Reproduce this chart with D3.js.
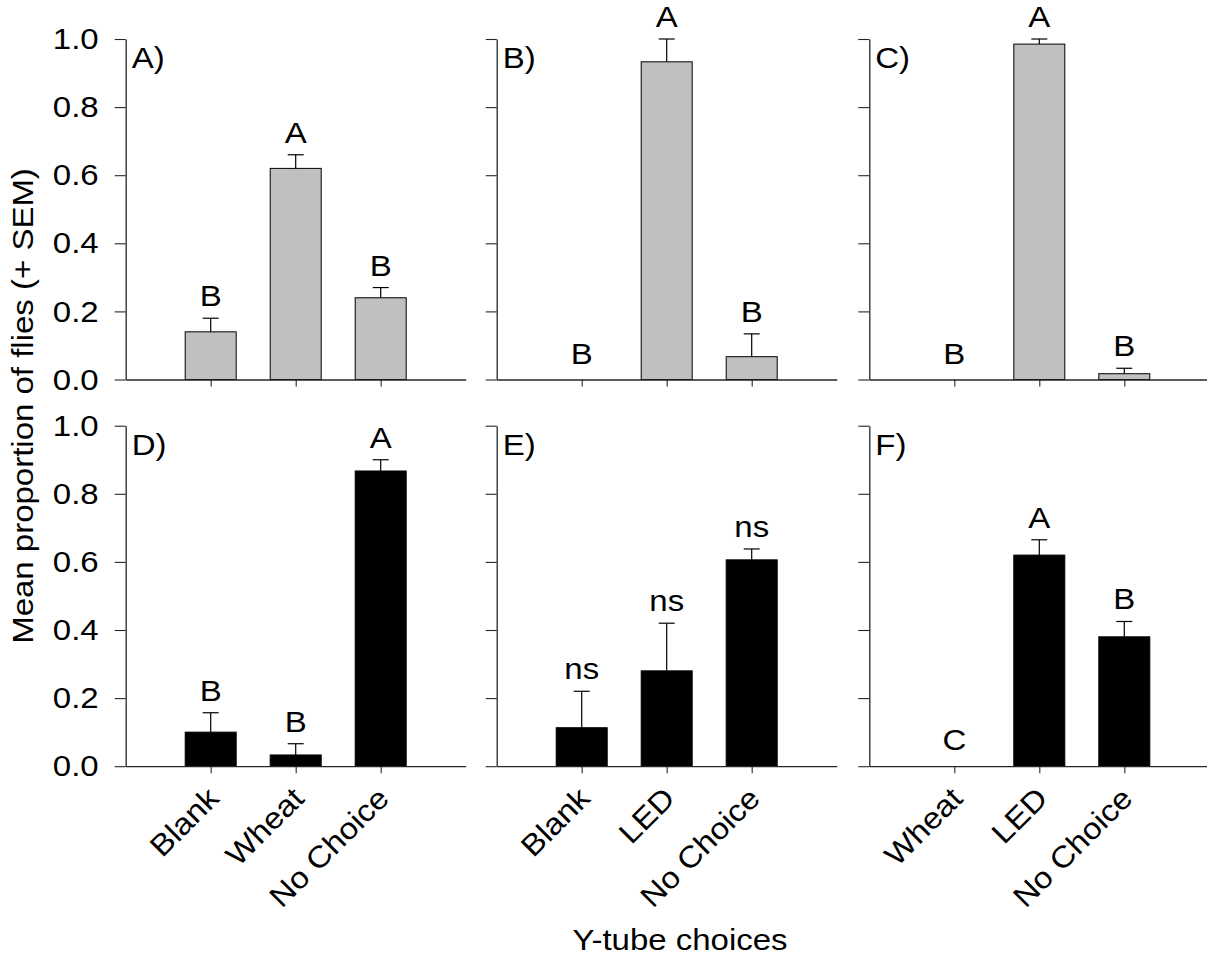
<!DOCTYPE html>
<html>
<head>
<meta charset="utf-8">
<script src="https://cdn.jsdelivr.net/npm/d3@7"></script>
<style>
  html, body { margin: 0; padding: 0; background: #fff; }
  svg text { font-family: "Liberation Sans", Arial, sans-serif; fill: #000; }
</style>
</head>
<body>
<svg id="chart" width="1207" height="960"></svg>
<script>
// Y-tube choice experiments: mean proportion of flies choosing each arm (+ SEM)
const panelTags = ["A)", "B)", "C)", "D)", "E)", "F)"];
const panelCategories = [
  ["Blank", "Wheat", "No Choice"],
  ["Blank", "LED", "No Choice"],
  ["Wheat", "LED", "No Choice"],
  ["Blank", "Wheat", "No Choice"],
  ["Blank", "LED", "No Choice"],
  ["Wheat", "LED", "No Choice"]
];
const panelMeans = [
  [0.14, 0.62, 0.24],
  [0, 0.933, 0.067],
  [0, 0.985, 0.017],
  [0.10, 0.033, 0.867],
  [0.113, 0.28, 0.606],
  [0, 0.62, 0.38]
];
const panelSEM = [
  [0.04, 0.04, 0.03],
  [0, 0.067, 0.067],
  [0, 0.015, 0.016],
  [0.057, 0.033, 0.033],
  [0.107, 0.14, 0.032],
  [0, 0.045, 0.045]
];
const panelLetters = [
  ["B", "A", "B"],
  ["B", "A", "B"],
  ["B", "A", "B"],
  ["B", "B", "A"],
  ["ns", "ns", "ns"],
  ["C", "A", "B"]
];
const yTicks = [0, 0.2, 0.4, 0.6, 0.8, 1.0];
const yTitle = "Mean proportion of flies (+ SEM)";
const xTitle = "Y-tube choices";

// layout
const colLeft = [125.7, 496.7, 869.3];
const rowTop = [39, 425.7];
const plotW = 340, plotH = 340.5;
const fontSize = 30;
const stretch = "scale(1.1,1)";   // slightly wide lettering
const axisColor = "#262626";

const svg = d3.select("#chart");

panelTags.forEach((tag, i) => {
  const row = Math.floor(i / 3), col = i % 3;
  const left = colLeft[col], top = rowTop[row];
  const cats = panelCategories[i];
  const fill = row === 0 ? "#c0c0c0" : "#000";

  const x = d3.scalePoint().domain(cats).range([0, plotW]).padding(1);
  const y = d3.scaleLinear().domain([0, 1]).range([plotH, 0]);
  const barW = x.step() * 0.6;

  const g = svg.append("g").attr("transform", `translate(${left},${top})`);

  // bars
  cats.forEach((c, j) => {
    const m = panelMeans[i][j];
    if (m <= 0) return;
    g.append("rect")
      .attr("x", x(c) - barW / 2)
      .attr("width", barW)
      .attr("y", y(m))
      .attr("height", plotH - y(m))
      .attr("fill", fill)
      .attr("stroke", "#000")
      .attr("stroke-width", 1);
  });

  // upper error bars and significance letters
  cats.forEach((c, j) => {
    const m = panelMeans[i][j], s = panelSEM[i][j];
    if (s > 0) {
      g.append("line")
        .attr("x1", x(c)).attr("x2", x(c))
        .attr("y1", y(m)).attr("y2", y(m + s))
        .attr("stroke", "#000").attr("stroke-width", 1.2);
      g.append("line")
        .attr("x1", x(c) - 8).attr("x2", x(c) + 8)
        .attr("y1", y(m + s)).attr("y2", y(m + s))
        .attr("stroke", "#000").attr("stroke-width", 1.2);
    }
    const gap = m > 0 ? 12 : 16;
    g.append("text")
      .attr("transform", `translate(${x(c)},${y(m + s) - gap}) ${stretch}`)
      .attr("text-anchor", "middle")
      .attr("font-size", fontSize)
      .text(panelLetters[i][j]);
  });

  // y axis
  const yAxis = d3.axisLeft(y).tickValues(yTicks).tickSizeInner(11).tickSizeOuter(0)
    .tickFormat(col === 0 ? d3.format(".1f") : () => "");
  const ya = g.append("g").call(yAxis);
  ya.select(".domain").attr("stroke", axisColor).attr("stroke-width", 1.3);
  ya.selectAll(".tick line").attr("stroke", axisColor).attr("stroke-width", 1.1);
  ya.selectAll(".tick text")
    .attr("x", 0)
    .attr("transform", `translate(-27,0) ${stretch}`)
    .attr("font-size", fontSize)
    .attr("font-family", "Liberation Sans, Arial, sans-serif")
    .attr("fill", "#000");

  // x axis
  const xAxis = d3.axisBottom(x).tickSizeInner(7).tickSizeOuter(0).tickFormat(() => "");
  const xa = g.append("g").attr("transform", `translate(0,${plotH})`).call(xAxis);
  xa.select(".domain").attr("stroke", axisColor).attr("stroke-width", 1.3);
  xa.selectAll(".tick line").attr("stroke", axisColor).attr("stroke-width", 1.1);

  // rotated category labels on the bottom row
  if (row === 1) {
    g.selectAll("text.cat").data(cats).join("text")
      .attr("class", "cat")
      .attr("text-anchor", "end")
      .attr("font-size", fontSize)
      .attr("transform", d => `translate(${x(d) + 10},${plotH + 34}) rotate(-45) ${stretch}`)
      .text(d => d);
  }

  // panel tag
  g.append("text")
    .attr("transform", `translate(6,29) ${stretch}`)
    .attr("font-size", fontSize)
    .text(tag);
});

// axis titles
svg.append("text")
  .attr("transform", `translate(33,406) rotate(-90) ${stretch}`)
  .attr("text-anchor", "middle")
  .attr("font-size", fontSize)
  .text(yTitle);

svg.append("text")
  .attr("transform", `translate(680,950) ${stretch}`)
  .attr("text-anchor", "middle")
  .attr("font-size", fontSize)
  .text(xTitle);
</script>
</body>
</html>
